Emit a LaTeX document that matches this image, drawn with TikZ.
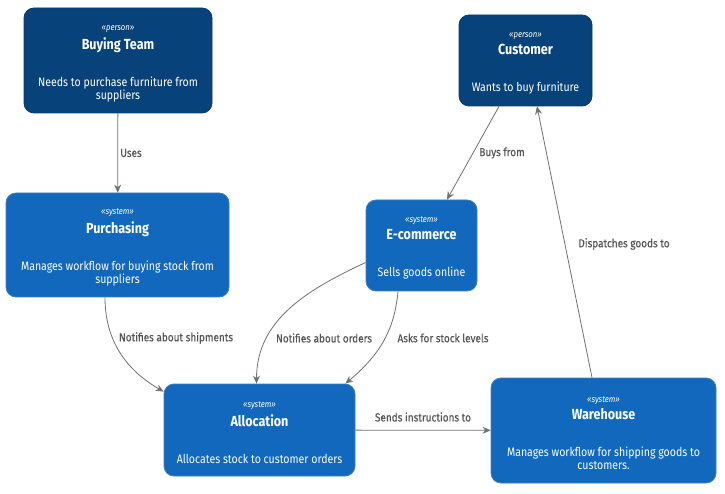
\documentclass[tikz,border=0pt]{standalone}
\usepackage{fontspec}
\setmainfont[FakeStretch=0.86]{Fira Sans}
\newfontfamily\lblfont[FakeStretch=0.86, FakeBold=0.35]{Fira Sans}
\usetikzlibrary{positioning,arrows.meta}
\definecolor{persblue}{HTML}{08427B}
\definecolor{persline}{HTML}{073B6F}
\definecolor{sysblue}{HTML}{1168BD}
\definecolor{sysline}{HTML}{3C7FC0}
\definecolor{relgray}{HTML}{707070}
\definecolor{lblgray}{HTML}{555555}
% box text: stereotype, title, description
\newcommand{\elem}[3]{\rule{0pt}{11pt}{\fontsize{9}{11}\selectfont\itshape «#1»}\\[4pt]{\fontsize{14.6}{16}\selectfont\bfseries #2}\\[24pt]#3}

\begin{document}
\begin{tikzpicture}[x=1pt, y=1pt]
\tikzstyle{person} = [draw=persline, fill=persblue, text=white, rounded corners=10pt, align=center, font=\fontsize{12.3}{13}\selectfont, line width=0.8pt];
\tikzstyle{system} = [draw=sysline, fill=sysblue, text=white, rounded corners=10pt, align=center, font=\fontsize{12.3}{13}\selectfont, line width=0.8pt];
\tikzstyle{rel} = [draw=relgray, line width=0.8pt, -{Stealth[length=8pt, width=7pt]}];
\tikzstyle{lbl} = [text=lblgray, font=\lblfont\fontsize{11.6}{13}\selectfont];
\useasboundingbox (0,0) rectangle (725,493);

\node[person, minimum width=188, minimum height=105] (buying) at (118, 432.5)
  {\elem{person}{Buying Team}{Needs to purchase furniture from\\suppliers}};
\node[person, minimum width=133, minimum height=91] (cust) at (525.5, 432.5)
  {\elem{person}{Customer}{Wants to buy furniture}};
\node[system, minimum width=223, minimum height=104] (purch) at (117.5, 248)
  {\elem{system}{Purchasing}{Manages workflow for buying stock from\\suppliers}};
\node[system, minimum width=111, minimum height=91] (ecom) at (421.5, 247.5)
  {\elem{system}{E-commerce}{Sells goods online}};
\node[system, minimum width=191, minimum height=92] (alloc) at (259.5, 63)
  {\elem{system}{Allocation}{Allocates stock to customer orders}};
\node[system, minimum width=225, minimum height=105] (wareh) at (603.5, 62.5)
  {\elem{system}{Warehouse}{Manages workflow for shipping goods to\\customers.}};

\draw[rel] (buying) -- (purch);
\draw[rel] ([xshift=-12.5]purch.south) to[out=-90, in=150] ([yshift=-8]alloc.north west);
\draw[rel] ([yshift=-17]ecom.west) to[out=205, in=90] ([xshift=-3]alloc.north);
\draw[rel] ([xshift=-23.5]ecom.south) to[out=-95, in=40] ([xshift=-10]alloc.north east);
\draw[rel] (alloc) -- (wareh);
\draw[rel] ([xshift=-11.5]wareh.north) -- ([xshift=11.5]cust.south);
\draw[rel] ([xshift=-26.5]cust.south) -- ([xshift=25.5]ecom.north);

\node[lbl] (l-uses) at (131, 340) {Uses};
\node[lbl] (l-ship) at (176, 155) {Notifies about shipments};
\node[lbl] (l-orders) at (324, 155) {Notifies about orders};
\node[lbl] (l-stock) at (443, 155) {Asks for stock levels};
\node[lbl] (l-instr) at (423, 76) {Sends instructions to};
\node[lbl] (l-disp) at (624, 249) {Dispatches goods to};
\node[lbl] (l-buys) at (502, 340) {Buys from};
\end{tikzpicture}
\end{document}
